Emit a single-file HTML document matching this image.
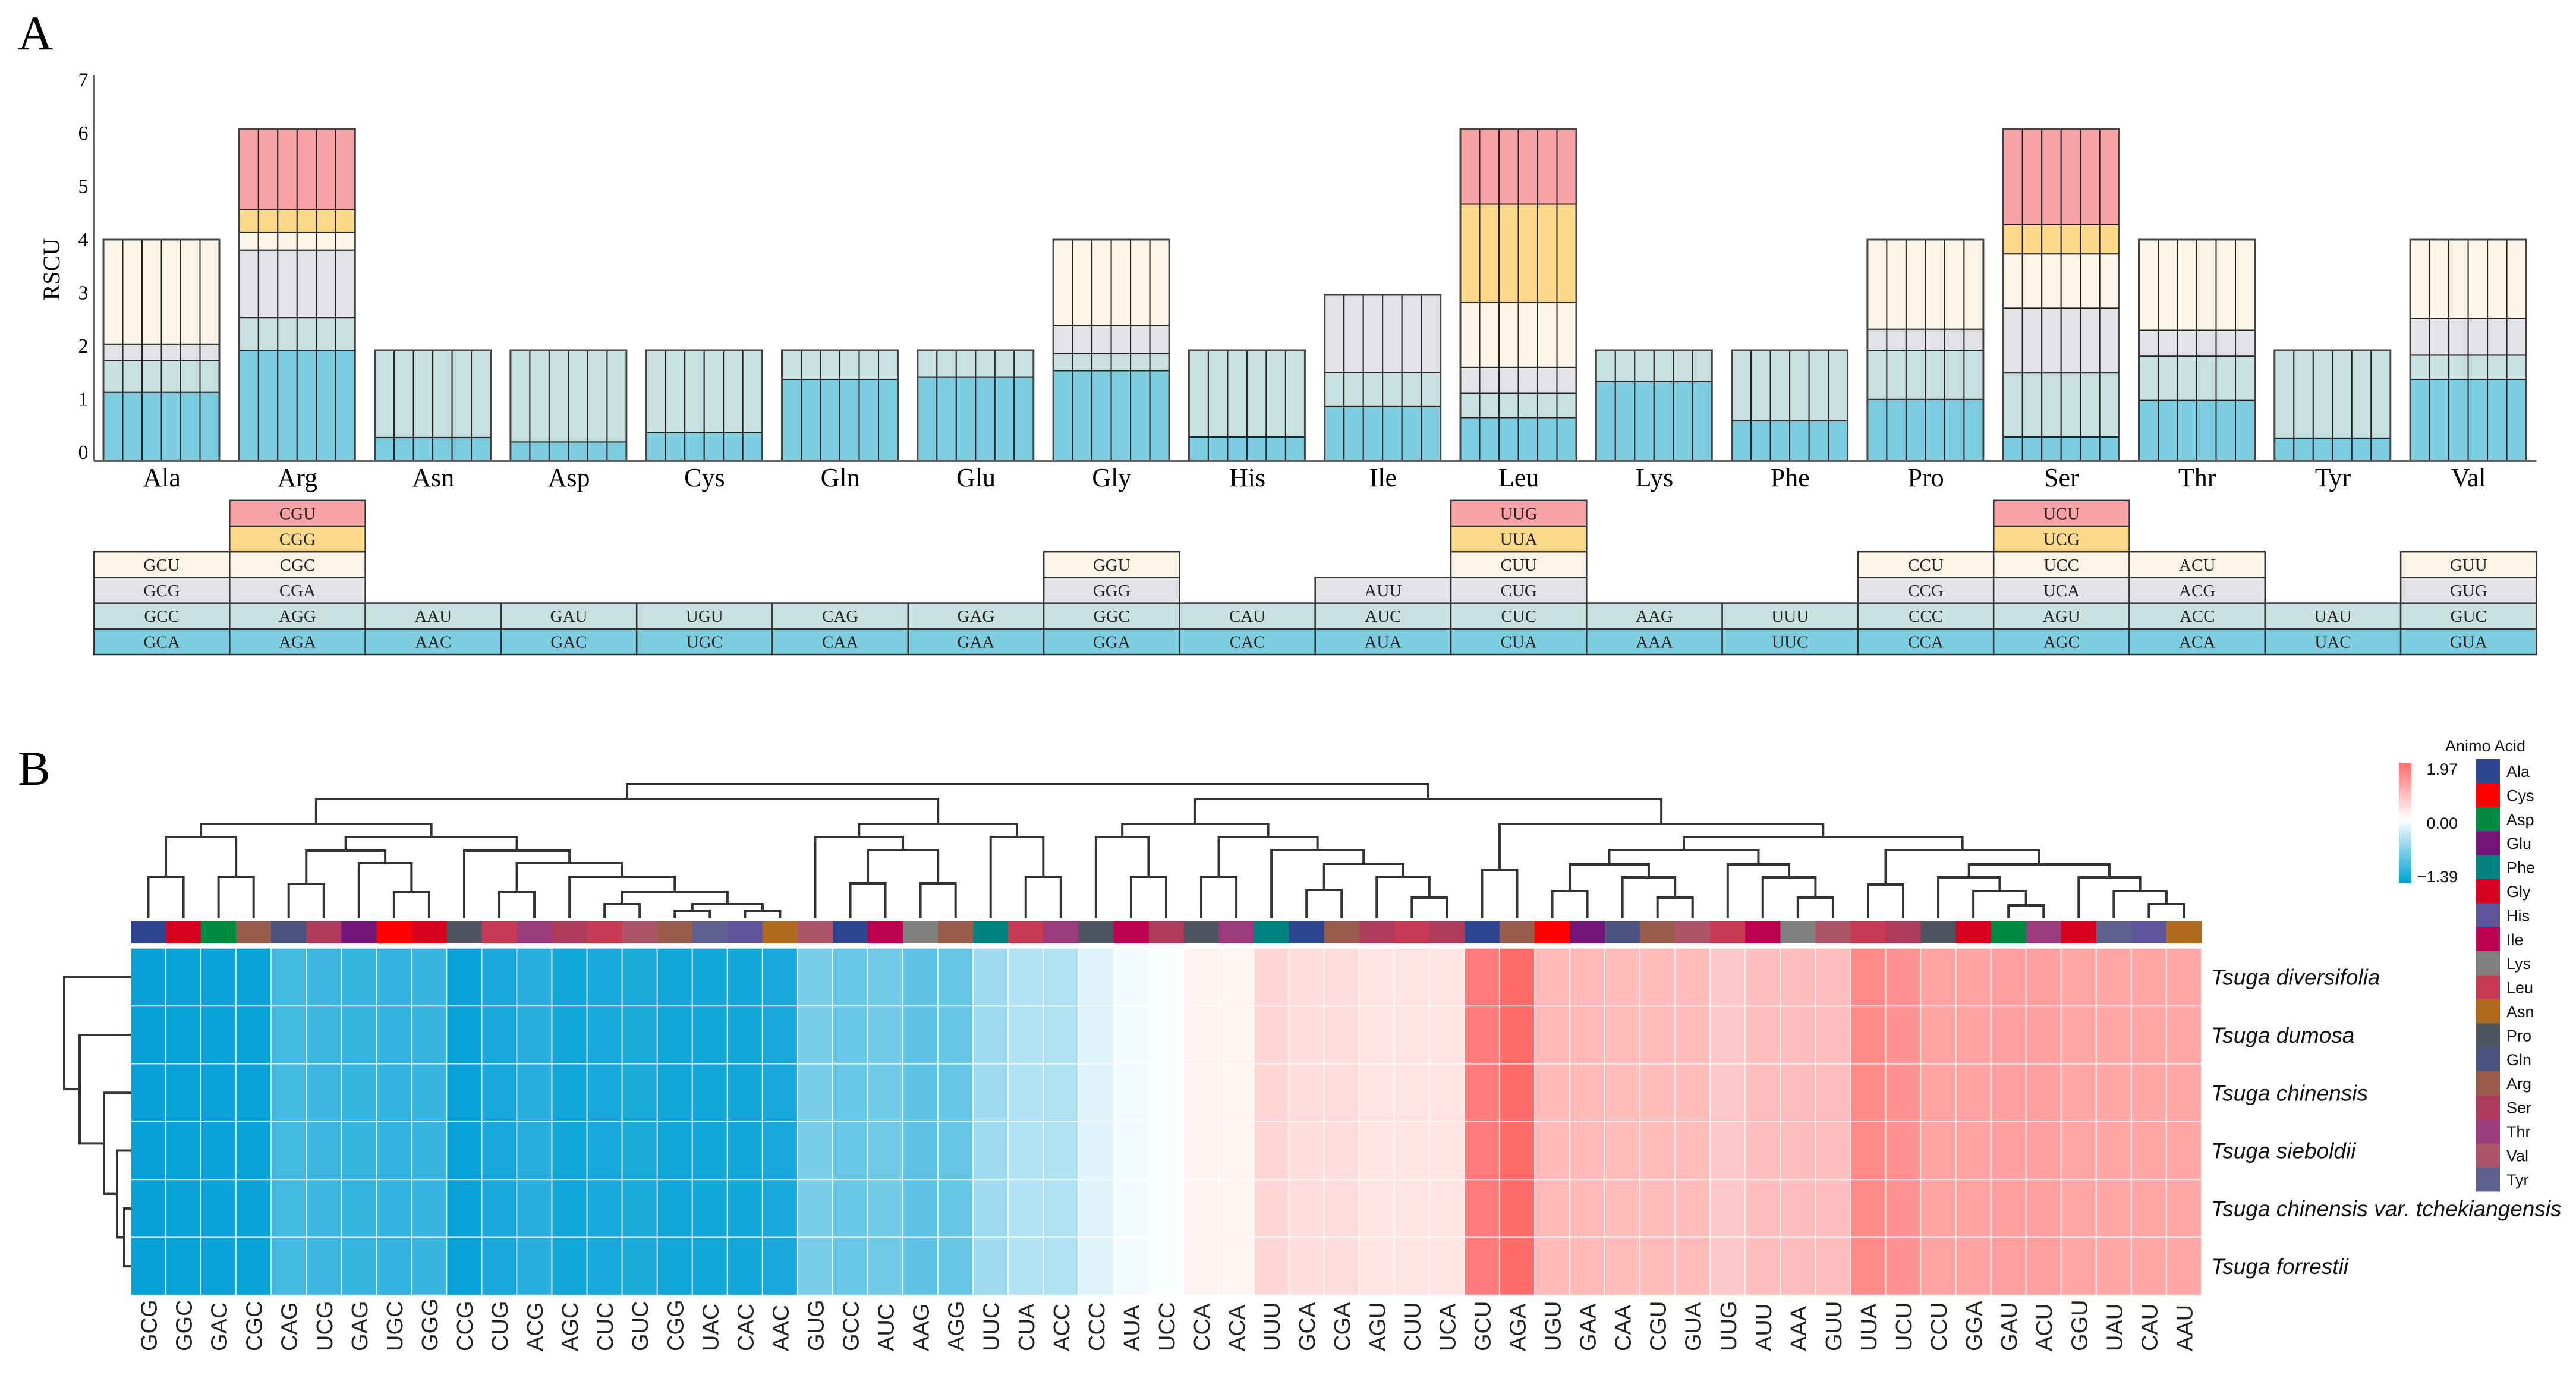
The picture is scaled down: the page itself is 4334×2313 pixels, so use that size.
<!DOCTYPE html>
<html><head><meta charset="utf-8"><style>
html,body{margin:0;padding:0;background:#fff;}
svg{display:block;}
</style></head><body>
<svg id="fig" xmlns="http://www.w3.org/2000/svg" width="4334" height="2313" viewBox="0 0 4334 2313">
<rect width="4334" height="2313" fill="#fff"/>
<text x="30" y="83" font-family="Liberation Serif, serif" font-size="82">A</text>
<text x="30" y="1320" font-family="Liberation Serif, serif" font-size="82">B</text>
<g id="pa"></g>
<g id="pb"></g>
</svg>
<script>
// ---------- Panel A data ----------
const groups = ['Ala','Arg','Asn','Asp','Cys','Gln','Glu','Gly','His','Ile','Leu','Lys','Phe','Pro','Ser','Thr','Tyr','Val'];
const codons = [
 ['GCA','GCC','GCG','GCU'],['AGA','AGG','CGA','CGC','CGG','CGU'],['AAC','AAU'],['GAC','GAU'],['UGC','UGU'],
 ['CAA','CAG'],['GAA','GAG'],['GGA','GGC','GGG','GGU'],['CAC','CAU'],['AUA','AUC','AUU'],
 ['CUA','CUC','CUG','CUU','UUA','UUG'],['AAA','AAG'],['UUC','UUU'],['CCA','CCC','CCG','CCU'],
 ['AGC','AGU','UCA','UCC','UCG','UCU'],['ACA','ACC','ACG','ACU'],['UAC','UAU'],['GUA','GUC','GUG','GUU']];
const rscu = [
 [1.24,0.57,0.30,1.89],[2.00,0.59,1.22,0.32,0.41,1.46],[0.42,1.58],[0.34,1.66],[0.51,1.49],
 [1.47,0.53],[1.51,0.49],[1.63,0.31,0.51,1.55],[0.43,1.57],[0.98,0.62,1.40],
 [0.78,0.44,0.47,1.17,1.78,1.36],[1.43,0.57],[0.72,1.28],[1.11,0.89,0.38,1.62],
 [0.43,1.16,1.17,0.98,0.53,1.73],[1.09,0.80,0.47,1.64],[0.41,1.59],[1.47,0.44,0.66,1.43]];
const yTicks = [0,1,2,3,4,5,6,7];
const segColors = ['#7ecde1','#c9e0e0','#e2e2e7','#fdf4e8','#fdd98b','#f7a3a6'];

// ---------- Panel B data ----------
const hmCodons = ['GCG','GGC','GAC','CGC','CAG','UCG','GAG','UGC','GGG','CCG','CUG','ACG','AGC','CUC','GUC','CGG','UAC','CAC','AAC','GUG','GCC','AUC','AAG','AGG','UUC','CUA','ACC','CCC','AUA','UCC','CCA','ACA','UUU','GCA','CGA','AGU','CUU','UCA','GCU','AGA','UGU','GAA','CAA','CGU','GUA','UUG','AUU','AAA','GUU','UUA','UCU','CCU','GGA','GAU','ACU','GGU','UAU','CAU','AAU'];
const hmValues = [-1.36,-1.35,-1.33,-1.35,-1.02,-1.05,-1.10,-1.12,-1.08,-1.35,-1.26,-1.18,-1.30,-1.26,-1.25,-1.30,-1.29,-1.28,-1.26,-0.72,-0.82,-0.78,-0.88,-0.84,-0.52,-0.42,-0.44,-0.18,-0.06,-0.02,0.16,0.14,0.50,0.42,0.42,0.36,0.36,0.34,1.62,1.82,0.88,0.88,0.85,0.85,0.85,0.68,0.80,0.80,0.80,1.44,1.34,1.14,1.14,1.18,1.18,1.10,1.10,1.10,1.10];
const species = ['Tsuga diversifolia','Tsuga dumosa','Tsuga chinensis','Tsuga sieboldii','Tsuga chinensis var. tchekiangensis','Tsuga forrestii'];
const aaLegend = ['Ala','Cys','Asp','Glu','Phe','Gly','His','Ile','Lys','Leu','Asn','Pro','Gln','Arg','Ser','Thr','Val','Tyr'];
const aaColors = ['#2e4591','#fe0000','#008b45','#731577','#00827f','#d8001f','#5f559b','#bb0050','#808080','#c63a54','#b06b1e','#4d5660','#4b5381','#9a5c4b','#af3a5c','#9b3a7d','#ad5469','#5e6190'];
const colorMin = -1.39, colorMax = 1.97;
// column dendrogram nodes: [left, right, mergeHeight]
const tL03 = [[0,1,69],[2,3,69],136];
const tL48 = [[4,5,57],[6,[7,8,44],92],113];
const tL918 = [9,[[10,11,44],[12,[[13,14,23],[[15,16,12],[17,18,12],23],44],69],92],113];
const tLeft = [tL03,[tL48,tL918,136],158];
const tG = [[19,[[20,21,58],[22,23,58],114],136],[24,[25,26,69],136],158];
const tR1 = [[27,[28,29,69],136],[[30,31,69],[32,[[33,34,47],[35,[36,37,34],69],91],114],136],158];
const tR2a = [[[40,41,45],[42,[43,44,34],68],90],[45,[46,[47,48,34],68],90],114];
const tR2b = [[49,50,56],[[51,[52,[53,54,21],45],68],[55,[56,[57,58,23],45],68],90],114];
const tR2 = [[38,39,81],[tR2a,tR2b,136],158];
const colTree = [[tLeft,tG,200],[tR1,tR2,200],225];
const rowTree = [0,[1,[2,[3,[4,5,11],23],45],86],112];

const NS='http://www.w3.org/2000/svg';
function mk(tag,attrs,parent){const e=document.createElementNS(NS,tag);for(const k in attrs)e.setAttribute(k,attrs[k]);parent.appendChild(e);return e;}

// ---------- Panel A ----------
const pa=document.getElementById('pa');
const X0=158, STEP=228.3, BASE=775, UNIT=93.0;
const yA=v=>BASE-v*UNIT;
const tickY=v=>772-v*89.5;
try{
for(const tk of yTicks){
  const tx=mk('text',{x:140,y:tickY(tk),'font-family':'Liberation Serif, serif','font-size':34,'text-anchor':'middle'},pa);
  tx.textContent=tk;
  
  
}
const yl=mk('text',{x:0,y:0,transform:'translate(100,453) rotate(-90)','font-family':'Liberation Serif, serif','font-size':40,'text-anchor':'middle'},pa);
yl.textContent='RSCU';



groups.forEach((g,gi)=>{
  const cx=X0+gi*STEP;
  const bx=cx+16, bw=195, sw=bw/6;
  let acc=0;
  const gG=mk('g',{},pa);
  
  
  rscu[gi].forEach((v,ci)=>{
    for(let s=0;s<6;s++){
      const r=mk('rect',{x:bx+s*sw,y:yA(acc+v),width:sw,height:v*UNIT,fill:segColors[ci],stroke:'#222','stroke-width':2},gG);
      
      
    }
    acc+=v;
  });
  mk('rect',{x:bx,y:yA(acc),width:bw,height:acc*UNIT,fill:'none',stroke:'#444','stroke-width':3},gG);
  const lb=mk('text',{x:cx+STEP/2,y:818,'font-family':'Liberation Serif, serif','font-size':44,'text-anchor':'middle'},pa);
  lb.textContent=g;
  
  
  const RH=43.2, TB=1101;
  codons[gi].forEach((c,ci)=>{
    const ty=TB-(ci+1)*RH;
    const cr=mk('rect',{x:cx,y:ty,width:STEP,height:RH,fill:segColors[ci],stroke:'#333','stroke-width':2.5},pa);
    
    
    const ct=mk('text',{x:cx+STEP/2,y:ty+RH/2+10,'font-family':'Liberation Serif, serif','font-size':29,'text-anchor':'middle',fill:'#222'},pa);
    ct.textContent=c;
    
    
  });
});
mk('line',{x1:X0,y1:126,x2:X0,y2:BASE+1,stroke:'#666','stroke-width':3},pa);
mk('line',{x1:X0,y1:BASE+1,x2:X0+18*STEP,y2:BASE+1,stroke:'#666','stroke-width':4},pa);
}catch(e){console.log(e);}

// ---------- Panel B ----------
const pb=document.getElementById('pb');
const HX=220, CW=59.05, HY=1595, RH2=97.3;
const colX=i=>HX+CW*(i+0.5);
const rowY=r=>HY+RH2*(r+0.5);
function lerp(a,b,t){return Math.round(a+(b-a)*t);}
function colorOf(v){
  if(v<0){const t=Math.min(1,v/colorMin);return 'rgb('+lerp(255,0,t)+','+lerp(255,160,t)+','+lerp(255,214,t)+')';}
  const t=Math.min(1,v/colorMax);return 'rgb(255,'+lerp(255,95,t)+','+lerp(255,95,t)+')';
}
function aaOfCodon(c){for(let i=0;i<codons.length;i++){if(codons[i].indexOf(c)>=0)return groups[i];}return 'Ala';}
try{
hmCodons.forEach((c,i)=>{
  const x=HX+CW*i;
  const aa=aaOfCodon(c);
  const an=mk('rect',{x:x,y:1549,width:CW+0.5,height:38,fill:aaColors[aaLegend.indexOf(aa)]},pb);
  
  
  for(let r=0;r<species.length;r++){
    const cell=mk('rect',{x:x,y:HY+RH2*r,width:CW,height:RH2,fill:colorOf(hmValues[i]),stroke:'rgba(255,255,255,0.7)','stroke-width':2},pb);
    
    
  }
  const lbl=mk('text',{x:0,y:0,transform:'translate('+(colX(i)+14)+',2273) rotate(-90)','font-family':'Liberation Sans, sans-serif','font-size':38,fill:'#222'},pb);
  lbl.textContent=c;
  
  
});
species.forEach((s,r)=>{
  const sl=mk('text',{x:3720,y:rowY(r)+13,'font-family':'Liberation Sans, sans-serif','font-size':37,'font-style':'italic',fill:'#111'},pb);
  sl.textContent=s;
  
  
});
}catch(e){console.log(e);}

const LEAFY=1544;
function drawCol(n){
  if(typeof n==='number')return {x:colX(n),y:LEAFY};
  const a=drawCol(n[0]),b=drawCol(n[1]),y=LEAFY-n[2];
  const p=mk('path',{d:'M'+a.x+','+a.y+'V'+y+'H'+b.x+'V'+b.y,fill:'none',stroke:'#333','stroke-width':4},pb);
  
  
  return {x:(a.x+b.x)/2,y:y};
}
try{drawCol(colTree);}catch(e){console.log(e);}
const LEAFX=220;
function drawRow(n){
  if(typeof n==='number')return {x:LEAFX,y:rowY(n)};
  const a=drawRow(n[0]),b=drawRow(n[1]),x=LEAFX-n[2];
  const p=mk('path',{d:'M'+a.x+','+a.y+'H'+x+'V'+b.y+'H'+b.x,fill:'none',stroke:'#333','stroke-width':4},pb);
  
  
  return {x:x,y:(a.y+b.y)/2};
}
try{drawRow(rowTree);}catch(e){console.log(e);}

try{
const defs=mk('defs',{},pb);
const lg=mk('linearGradient',{id:'cb',x1:0,y1:0,x2:0,y2:1},defs);
mk('stop',{offset:'0','stop-color':'#ff6b6b'},lg);
mk('stop',{offset:'0.47','stop-color':'#ffffff'},lg);
mk('stop',{offset:'1','stop-color':'#00a0d4'},lg);
const cbar=mk('rect',{x:4036,y:1283,width:21,height:202,fill:'url(#cb)'},pb);


const cbLabels=[['1.97',1303],['0.00',1394],['\u22121.39',1484]];
cbLabels.forEach((p,i)=>{
  const ct=mk('text',{x:4135,y:p[1],'font-family':'Liberation Sans, sans-serif','font-size':27,'text-anchor':'end',fill:'#111'},pb);
  ct.textContent=p[0];
  
  
});
const lt=mk('text',{x:4114,y:1264,'font-family':'Liberation Sans, sans-serif','font-size':27,fill:'#111'},pb);
lt.textContent='Animo Acid';


aaLegend.forEach((a,i)=>{
  const y=1277+i*40.4;
  const sq=mk('rect',{x:4166,y:y,width:40,height:40.6,fill:aaColors[i]},pb);
  
  
  const et=mk('text',{x:4217,y:y+30,'font-family':'Liberation Sans, sans-serif','font-size':27,fill:'#111'},pb);
  et.textContent=a;
  
  
});
}catch(e){console.log(e);}
</script>
</body></html>
